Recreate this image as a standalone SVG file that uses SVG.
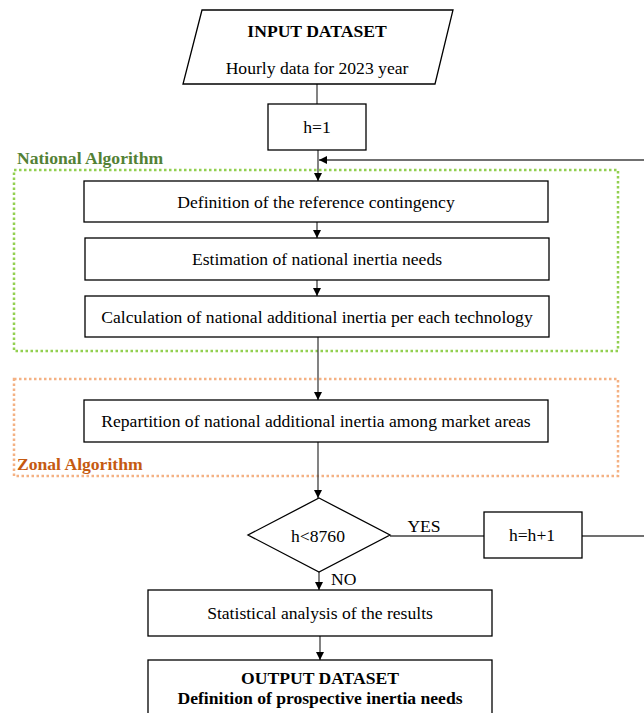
<svg xmlns="http://www.w3.org/2000/svg" width="644" height="713" viewBox="0 0 644 713">
<style>
.box{fill:#fff;stroke:#000;stroke-width:1.3}
.t{font-family:"Liberation Serif","Times New Roman",serif;font-size:17.6px;fill:#000;text-anchor:middle}
.b{font-weight:bold}
.c{fill:none;stroke:#404040;stroke-width:1.3}
.grp{fill:none;stroke-width:2.5;stroke-dasharray:2.5 2.5}
</style>
<defs>
<marker id="ah" viewBox="0 0 10 10" refX="10" refY="5" markerWidth="8" markerHeight="8" markerUnits="userSpaceOnUse" orient="auto">
<path d="M0,0 L10,5 L0,10 Z" fill="#000"/>
</marker>
</defs>
<rect width="644" height="713" fill="#fff"/>
<g id="national-group">
<rect class="grp" x="14" y="170" width="604" height="181" stroke="#92D050"/>
<text class="t b" x="17" y="164" style="text-anchor:start;fill:#538135">National Algorithm</text>
</g>
<g id="zonal-group">
<rect class="grp" x="14" y="379" width="604" height="97" stroke="#F4B183"/>
<text class="t b" x="17" y="470" style="text-anchor:start;fill:#C55A11">Zonal Algorithm</text>
</g>
<g id="connectors">
<line class="c" x1="317" y1="84" x2="317" y2="104"/>
<line class="c" x1="318" y1="150" x2="318" y2="181" marker-end="url(#ah)"/>
<line class="c" x1="644" y1="160" x2="319" y2="160" marker-end="url(#ah)"/>
<line class="c" x1="317" y1="222" x2="317" y2="238" marker-end="url(#ah)"/>
<line class="c" x1="317" y1="280" x2="317" y2="296" marker-end="url(#ah)"/>
<line class="c" x1="318" y1="337" x2="318" y2="400" marker-end="url(#ah)"/>
<line class="c" x1="318" y1="442" x2="318" y2="498" marker-end="url(#ah)"/>
<line class="c" x1="319" y1="572" x2="319" y2="590" marker-end="url(#ah)"/>
<line class="c" x1="390" y1="536" x2="484" y2="536"/>
<text class="t" x="424" y="532">YES</text>
<text class="t" x="331" y="585" style="text-anchor:start">NO</text>
<line class="c" x1="582" y1="536" x2="644" y2="536"/>
<line class="c" x1="320" y1="636" x2="320" y2="660" marker-end="url(#ah)"/>
</g>
<g id="input">
<polygon class="box" points="202,10 453,10 435,84 183,84"/>
<text class="t b" x="317" y="37">INPUT DATASET</text>
<text class="t" x="317" y="74">Hourly data for 2023 year</text>
</g>
<g id="h1">
<rect class="box" x="268" y="104" width="98" height="46"/>
<text class="t" x="317" y="133">h=1</text>
</g>
<g id="def">
<rect class="box" x="84" y="181" width="464" height="41"/>
<text class="t" x="316" y="208">Definition of the reference contingency</text>
</g>
<g id="est">
<rect class="box" x="85" y="238" width="464" height="42"/>
<text class="t" x="317" y="265">Estimation of national inertia needs</text>
</g>
<g id="calc">
<rect class="box" x="85" y="296" width="464" height="41"/>
<text class="t" x="317" y="323">Calculation of national additional inertia per each technology</text>
</g>
<g id="rep">
<rect class="box" x="84" y="400" width="464" height="42"/>
<text class="t" x="316" y="427">Repartition of national additional inertia among market areas</text>
</g>
<g id="decision">
<polygon class="box" points="319,498 390,535 319,572 248,535"/>
<text class="t" x="318" y="542">h&lt;8760</text>
</g>
<g id="incr">
<rect class="box" x="484" y="512" width="98" height="46"/>
<text class="t" x="532" y="541">h=h+1</text>
</g>
<g id="stat">
<rect class="box" x="148" y="590" width="344" height="46"/>
<text class="t" x="320" y="619">Statistical analysis of the results</text>
</g>
<g id="output">
<rect class="box" x="148" y="660" width="344" height="70"/>
<text class="t b" x="320" y="684">OUTPUT DATASET</text>
<text class="t b" x="320" y="704">Definition of prospective inertia needs</text>
</g>
</svg>
